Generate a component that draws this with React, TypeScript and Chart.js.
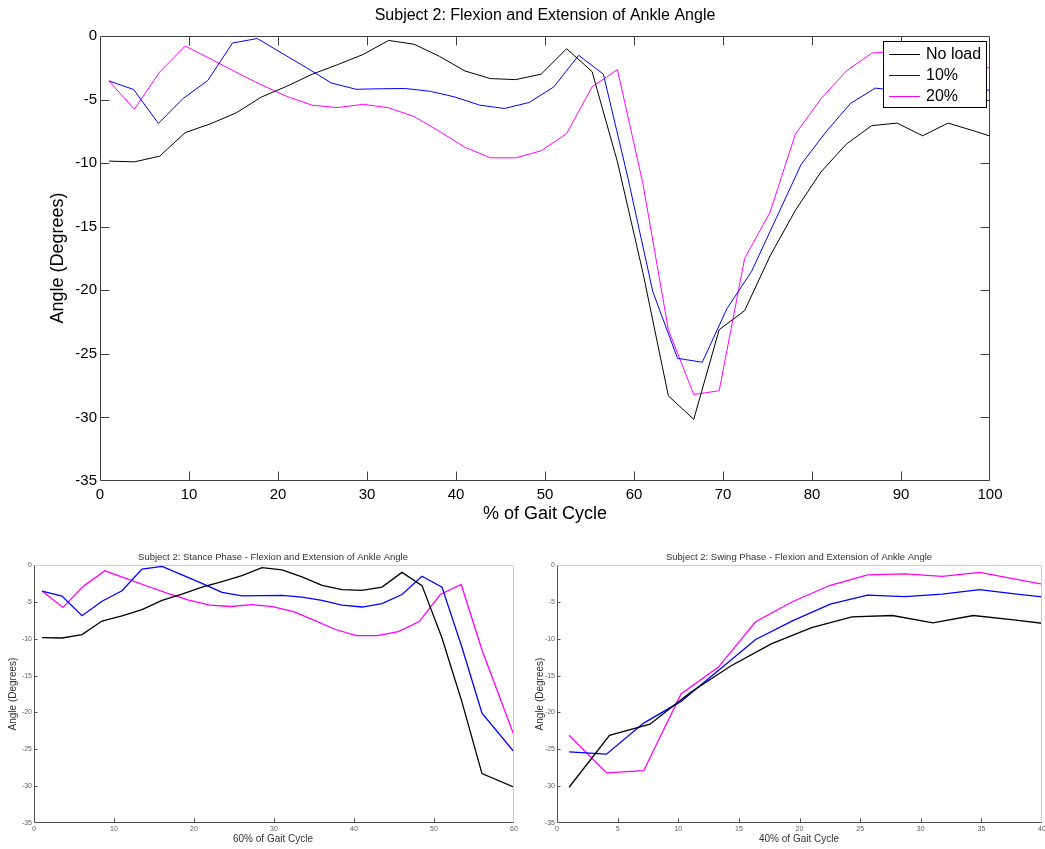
import React, { useEffect, useRef } from "react";
import { Chart, registerables } from "chart.js";

Chart.register(...registerables);

const FONT = "'Liberation Sans', Arial, Helvetica, sans-serif";

// ---------- data ----------
// full gait cycle sample positions (% of gait cycle)
const FULL_X_36 = [1, 3.86, 6.71, 9.57, 12.43, 15.29, 18.14, 21, 23.86, 26.71, 29.57, 32.43, 35.29, 38.14, 41, 43.86, 46.71, 49.57, 52.43, 55.29, 58.14, 61, 63.86, 66.71, 69.57, 72.43, 75.29, 78.14, 81, 83.86, 86.71, 89.57, 92.43, 95.29, 98.14, 101];
const FULL_X_37 = [1, 3.78, 6.56, 9.33, 12.11, 14.89, 17.67, 20.44, 23.22, 26, 28.78, 31.56, 34.33, 37.11, 39.89, 42.67, 45.44, 48.22, 51, 53.78, 56.56, 59.33, 62.11, 64.89, 67.67, 70.44, 73.22, 76, 78.78, 81.56, 84.33, 87.11, 89.89, 92.67, 95.44, 98.22, 101];

const NO_LOAD = [-9.84, -9.9, -9.45, -7.6, -6.9, -6.05, -4.8, -3.95, -3.0, -2.25, -1.45, -0.35, -0.65, -1.6, -2.75, -3.35, -3.43, -3.0, -1.0, -2.8, -9.9, -18.6, -28.3, -30.15, -23.1, -21.6, -17.3, -13.7, -10.7, -8.5, -7.05, -6.85, -7.85, -6.85, -7.45, -8.1];
const LOAD_10 = [-3.53, -4.21, -6.88, -4.92, -3.5, -0.55, -0.2, -1.35, -2.5, -3.7, -4.19, -4.15, -4.13, -4.35, -4.8, -5.44, -5.7, -5.23, -4.0, -1.52, -3.0, -11.2, -20.1, -25.35, -25.66, -21.45, -18.5, -14.3, -10.1, -7.55, -5.3, -4.1, -4.3, -3.95, -3.35, -3.95, -4.5];
const LOAD_20 = [-3.53, -5.76, -2.83, -0.79, -1.8, -2.85, -3.85, -4.75, -5.45, -5.63, -5.37, -5.65, -6.33, -7.5, -8.75, -9.58, -9.58, -9.03, -7.67, -4.0, -2.64, -11.6, -23.1, -28.2, -27.9, -17.5, -13.85, -7.7, -4.95, -2.75, -1.35, -1.2, -1.55, -1.0, -1.95, -2.9];

// stance phase (first part of the cycle) sample positions
const STANCE_X_NOLOAD = [1, 3.5, 6, 8.5, 11, 13.5, 16, 18.5, 21, 23.5, 26, 28.5, 31, 33.5, 36, 38.5, 41, 43.5, 46, 48.5, 51, 53.5, 56, 60];
const STANCE_X_10 = [1, 3.5, 6, 8.5, 11, 13.5, 16, 18.5, 21, 23.5, 26, 28.5, 31, 33.5, 36, 38.5, 41, 43.5, 46, 48.5, 51, 53.5, 56, 60];
const STANCE_X_20 = [1, 3.62, 6.24, 8.86, 11.48, 14.1, 16.72, 19.34, 21.96, 24.58, 27.2, 29.82, 32.44, 35.06, 37.68, 40.3, 42.92, 45.54, 48.16, 50.78, 53.4, 56.02, 60];
const STANCE_N_NOLOAD = 24;
const STANCE_N_10 = 24;
const STANCE_N_20 = 23;

// swing phase sample positions
const SWING_X_13 = [1, 4.33, 7.67, 11, 14.33, 17.67, 21, 24.33, 27.67, 31, 34.33, 37.67, 41];
const SWING_X_14 = [1, 4.08, 7.15, 10.23, 13.31, 16.38, 19.46, 22.54, 25.62, 28.69, 31.77, 34.85, 37.92, 41];

const SERIES_LABELS = ["No load", "10%", "20%"];
const SERIES_COLORS = ["#000000", "#0000ff", "#ff00ff"];

const Y_TICKS = [-35, -30, -25, -20, -15, -10, -5, 0];
const FULL_X_TICKS = [0, 10, 20, 30, 40, 50, 60, 70, 80, 90, 100];
const STANCE_X_TICKS = [0, 10, 20, 30, 40, 50, 60];
const SWING_X_TICKS = [0, 5, 10, 15, 20, 25, 30, 35, 40];

// ---------- helpers ----------
type Series = { label: string; x: number[]; y: number[]; color: string; width: number };
type TextItem = { text: string; x: number; y: number; size: number; color: string; rotate?: boolean };
type FrameCfg = {
  dark: string;
  light: string;
  allDark: boolean;
  tickLen: number;
  leftTickLen: number;
  allSides: boolean;
};
type LegendCfg = { x: number; y: number; w: number; h: number; lineX0: number; lineX1: number; textX: number; rows: number[]; size: number };

type Spec = {
  series: Series[];
  xTicks: number[];
  yTicks: number[];
  area: { left: number; right: number; top: number; bottom: number };
  w: number;
  h: number;
  xAxisH: number;
  tickSize: number;
  tickColor: string;
  xPad: number;
  yPad: number;
  frame: FrameCfg;
  texts: TextItem[];
  legend?: LegendCfg;
};

function toPoints(x: number[], y: number[]) {
  return y.map((v, i) => ({ x: x[i], y: v }));
}

function buildConfig(s: Spec): any {
  const xs = s.xTicks;
  const ys = s.yTicks;
  const framePlugin = {
    id: "frameTicks",
    afterDatasetsDraw(chart: any) {
      const { ctx, chartArea: a, scales } = chart;
      const f = s.frame;
      const L = Math.round(a.left) + 0.5;
      const R = Math.round(a.right) - 0.5;
      const T = Math.round(a.top) + 0.5;
      const B = Math.round(a.bottom) - 0.5;
      const clampX = (v: number) => Math.min(R, Math.max(L, v));
      const clampY = (v: number) => Math.min(B, Math.max(T, v));
      ctx.save();
      ctx.lineWidth = 1;
      // top & right
      ctx.strokeStyle = f.allDark ? f.dark : f.light;
      ctx.beginPath();
      ctx.moveTo(L, T);
      ctx.lineTo(R, T);
      ctx.lineTo(R, B);
      ctx.stroke();
      // left & bottom
      ctx.strokeStyle = f.dark;
      ctx.beginPath();
      ctx.moveTo(L, T);
      ctx.lineTo(L, B);
      ctx.lineTo(R, B);
      ctx.stroke();
      // ticks
      ctx.beginPath();
      for (const v of xs) {
        const px = clampX(Math.round(scales.x.getPixelForValue(v)) + 0.5);
        if (px === L || px === R) continue;
        ctx.moveTo(px, B);
        ctx.lineTo(px, B - f.tickLen);
        if (f.allSides) {
          ctx.moveTo(px, T);
          ctx.lineTo(px, T + f.tickLen);
        }
      }
      for (const v of ys) {
        const py = clampY(Math.round(scales.y.getPixelForValue(v)) + 0.5);
        if (py === T || py === B) continue;
        ctx.moveTo(L, py);
        ctx.lineTo(L + f.leftTickLen, py);
        if (f.allSides) {
          ctx.moveTo(R, py);
          ctx.lineTo(R - f.leftTickLen, py);
        }
      }
      ctx.stroke();
      ctx.restore();
    },
    afterDraw(chart: any) {
      const { ctx } = chart;
      ctx.save();
      ctx.textAlign = "center";
      ctx.textBaseline = "middle";
      for (const t of s.texts) {
        ctx.font = `${t.size}px ${FONT}`;
        ctx.fillStyle = t.color;
        if (t.rotate) {
          ctx.save();
          ctx.translate(t.x, t.y);
          ctx.rotate(-Math.PI / 2);
          ctx.fillText(t.text, 0, 0);
          ctx.restore();
        } else {
          ctx.fillText(t.text, t.x, t.y);
        }
      }
      const lg = s.legend;
      if (lg) {
        ctx.fillStyle = "#ffffff";
        ctx.fillRect(lg.x, lg.y, lg.w, lg.h);
        ctx.strokeStyle = "#000000";
        ctx.lineWidth = 1;
        ctx.strokeRect(lg.x + 0.5, lg.y + 0.5, lg.w, lg.h);
        ctx.font = `${lg.size}px ${FONT}`;
        ctx.textAlign = "left";
        s.series.forEach((ser, i) => {
          const ry = lg.rows[i];
          ctx.strokeStyle = ser.color;
          ctx.beginPath();
          ctx.moveTo(lg.lineX0, Math.round(ry) + 0.5);
          ctx.lineTo(lg.lineX1, Math.round(ry) + 0.5);
          ctx.stroke();
          ctx.fillStyle = "#000000";
          ctx.fillText(ser.label, lg.textX, ry + 1);
        });
      }
      ctx.restore();
    },
  };

  return {
    type: "line",
    data: {
      datasets: s.series.map((ser) => ({
        label: ser.label,
        data: toPoints(ser.x, ser.y),
        borderColor: ser.color,
        backgroundColor: ser.color,
        borderWidth: ser.width,
        pointRadius: 0,
        pointHoverRadius: 0,
        tension: 0,
        fill: false,
      })),
    },
    plugins: [framePlugin],
    options: {
      responsive: false,
      animation: false,
      devicePixelRatio: 1,
      events: [],
      layout: {
        padding: {
          left: 0,
          top: s.area.top,
          right: s.w - s.area.right,
          bottom: s.h - s.area.bottom - s.xAxisH,
        },
      },
      plugins: {
        legend: { display: false },
        title: { display: false },
        tooltip: { enabled: false },
      },
      scales: {
        x: {
          type: "linear",
          min: xs[0],
          max: xs[xs.length - 1],
          afterFit: (sc: any) => {
            sc.height = s.xAxisH;
          },
          afterBuildTicks: (sc: any) => {
            sc.ticks = xs.map((v) => ({ value: v }));
          },
          grid: { display: false, drawTicks: false },
          border: { display: false },
          ticks: {
            autoSkip: false,
            maxRotation: 0,
            padding: s.xPad,
            color: s.tickColor,
            font: { family: FONT, size: s.tickSize },
          },
        },
        y: {
          type: "linear",
          min: ys[0],
          max: ys[ys.length - 1],
          afterFit: (sc: any) => {
            sc.width = s.area.left;
          },
          afterBuildTicks: (sc: any) => {
            sc.ticks = ys.map((v) => ({ value: v }));
          },
          grid: { display: false, drawTicks: false },
          border: { display: false },
          ticks: {
            autoSkip: false,
            padding: s.yPad,
            color: s.tickColor,
            font: { family: FONT, size: s.tickSize },
          },
        },
      },
    },
  };
}

function ChartCanvas({ spec, left, top }: { spec: Spec; left: number; top: number }) {
  const ref = useRef<HTMLCanvasElement>(null);
  useEffect(() => {
    if (!ref.current) return;
    const chart = new Chart(ref.current, buildConfig(spec));
    return () => chart.destroy();
  }, []);
  return (
    <canvas
      ref={ref}
      width={spec.w}
      height={spec.h}
      style={{ position: "absolute", left, top, width: spec.w, height: spec.h, display: "block" }}
    />
  );
}

// ---------- chart specs ----------
const mainSpec: Spec = {
  series: [
    { label: SERIES_LABELS[0], x: FULL_X_36, y: NO_LOAD, color: SERIES_COLORS[0], width: 1 },
    { label: SERIES_LABELS[1], x: FULL_X_37, y: LOAD_10, color: SERIES_COLORS[1], width: 1 },
    { label: SERIES_LABELS[2], x: FULL_X_36, y: LOAD_20, color: SERIES_COLORS[2], width: 1 },
  ],
  xTicks: FULL_X_TICKS,
  yTicks: Y_TICKS,
  area: { left: 100, right: 990, top: 36, bottom: 481 },
  w: 1045,
  h: 530,
  xAxisH: 30,
  tickSize: 15,
  tickColor: "#000000",
  xPad: 5,
  yPad: 3,
  frame: { dark: "#404040", light: "#404040", allDark: true, tickLen: 9, leftTickLen: 9, allSides: true },
  texts: [
    { text: "Subject 2: Flexion and Extension of Ankle Angle", x: 545, y: 16, size: 16, color: "#000000" },
    { text: "% of Gait Cycle", x: 545, y: 514, size: 18, color: "#000000" },
    { text: "Angle (Degrees)", x: 58, y: 258, size: 18, color: "#000000", rotate: true },
  ],
  legend: { x: 883, y: 41, w: 103, h: 66, lineX0: 889, lineX1: 920, textX: 926, rows: [54, 74.5, 95.5], size: 16 },
};

const stanceSpec: Spec = {
  series: [
    { label: SERIES_LABELS[0], x: STANCE_X_NOLOAD, y: NO_LOAD.slice(0, STANCE_N_NOLOAD), color: SERIES_COLORS[0], width: 1.3 },
    { label: SERIES_LABELS[1], x: STANCE_X_10, y: LOAD_10.slice(0, STANCE_N_10), color: SERIES_COLORS[1], width: 1.3 },
    { label: SERIES_LABELS[2], x: STANCE_X_20, y: LOAD_20.slice(0, STANCE_N_20), color: SERIES_COLORS[2], width: 1.3 },
  ],
  xTicks: STANCE_X_TICKS,
  yTicks: Y_TICKS,
  area: { left: 34, right: 514, top: 25, bottom: 283 },
  w: 525,
  h: 309,
  xAxisH: 12,
  tickSize: 7,
  tickColor: "#606060",
  xPad: 2,
  yPad: 2,
  frame: { dark: "#505050", light: "#cccccc", allDark: false, tickLen: 4, leftTickLen: 3, allSides: false },
  texts: [
    { text: "Subject 2: Stance Phase - Flexion and Extension of Ankle Angle", x: 273, y: 17, size: 9.5, color: "#333333" },
    { text: "60% of Gait Cycle", x: 273, y: 299, size: 10, color: "#333333" },
    { text: "Angle (Degrees)", x: 13.5, y: 154, size: 10, color: "#333333", rotate: true },
  ],
};

const swingSpec: Spec = {
  series: [
    { label: SERIES_LABELS[0], x: SWING_X_13, y: NO_LOAD.slice(STANCE_N_NOLOAD - 1), color: SERIES_COLORS[0], width: 1.3 },
    { label: SERIES_LABELS[1], x: SWING_X_14, y: LOAD_10.slice(STANCE_N_10 - 1), color: SERIES_COLORS[1], width: 1.3 },
    { label: SERIES_LABELS[2], x: SWING_X_14, y: LOAD_20.slice(STANCE_N_20 - 1), color: SERIES_COLORS[2], width: 1.3 },
  ],
  xTicks: SWING_X_TICKS,
  yTicks: Y_TICKS,
  area: { left: 32, right: 517, top: 25, bottom: 283 },
  w: 535,
  h: 309,
  xAxisH: 12,
  tickSize: 7,
  tickColor: "#606060",
  xPad: 2,
  yPad: 2,
  frame: { dark: "#505050", light: "#cccccc", allDark: false, tickLen: 4, leftTickLen: 3, allSides: false },
  texts: [
    { text: "Subject 2: Swing Phase - Flexion and Extension of Ankle Angle", x: 274, y: 17, size: 9.5, color: "#333333" },
    { text: "40% of Gait Cycle", x: 274, y: 299, size: 10, color: "#333333" },
    { text: "Angle (Degrees)", x: 15, y: 154, size: 10, color: "#333333", rotate: true },
  ],
};

export default function App() {
  return (
    <div
      style={{
        position: "absolute",
        left: 0,
        top: 0,
        width: 1045,
        height: 849,
        overflow: "hidden",
        background: "#ffffff",
      }}
    >
      <ChartCanvas spec={mainSpec} left={0} top={0} />
      <ChartCanvas spec={stanceSpec} left={0} top={540} />
      <ChartCanvas spec={swingSpec} left={525} top={540} />
    </div>
  );
}
